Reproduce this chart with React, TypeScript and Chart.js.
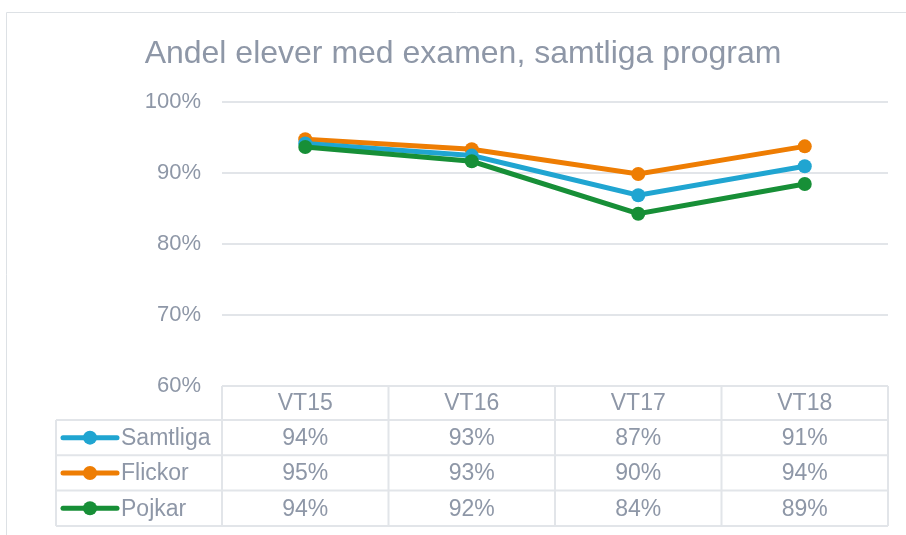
import React, { useEffect, useRef } from "react";
import { Chart, registerables } from "chart.js";

Chart.register(...registerables);

const categories = ["VT15", "VT16", "VT17", "VT18"];
const seriesNames = ["Samtliga", "Flickor", "Pojkar"];
const samtliga = [94.2, 92.5, 86.9, 91.0];
const flickor = [94.8, 93.4, 89.9, 93.8];
const pojkar = [93.7, 91.7, 84.3, 88.5];
const tableSamtliga = ["94%", "93%", "87%", "91%"];
const tableFlickor = ["95%", "93%", "90%", "94%"];
const tablePojkar = ["94%", "92%", "84%", "89%"];
const colors = ["#20a5d1", "#ee7d03", "#178f37"];

const FONT = "'Liberation Sans', Arial, sans-serif";
const TEXT = "#8e97a7";
const GRID = "#e2e5e9";

const tablePlugin = {
  id: "dataTable",
  beforeDraw(chart: any) {
    const ctx = chart.ctx;
    ctx.save();
    ctx.strokeStyle = "#dde1e5";
    ctx.lineWidth = 1;
    ctx.beginPath();
    ctx.moveTo(6.5, 540);
    ctx.lineTo(6.5, 12.5);
    ctx.lineTo(910, 12.5);
    ctx.stroke();
    ctx.restore();
  },
  afterDraw(chart: any) {
    const ctx = chart.ctx;
    const area = chart.chartArea;
    const xs = chart.scales.x;
    const n = categories.length;
    const colW = (area.right - area.left) / n;
    const headerTop = area.bottom;
    const headerH = 34;
    const rowH = 35.3;
    const tableLeft = 56;
    const rowsTop = headerTop + headerH;
    const bottom = rowsTop + rowH * 3;
    const tables = [tableSamtliga, tableFlickor, tablePojkar];

    ctx.save();
    ctx.strokeStyle = GRID;
    ctx.lineWidth = 2;
    ctx.beginPath();
    ctx.moveTo(area.left, headerTop);
    ctx.lineTo(area.right, headerTop);
    for (let r = 0; r <= 3; r++) {
      const y = rowsTop + r * rowH;
      ctx.moveTo(tableLeft, y);
      ctx.lineTo(area.right, y);
    }
    for (let c = 0; c <= n; c++) {
      const x = area.left + c * colW;
      ctx.moveTo(x, headerTop);
      ctx.lineTo(x, bottom);
    }
    ctx.moveTo(tableLeft, rowsTop);
    ctx.lineTo(tableLeft, bottom);
    ctx.stroke();

    ctx.fillStyle = TEXT;
    ctx.font = `23px ${FONT}`;
    ctx.textAlign = "center";
    ctx.textBaseline = "middle";
    categories.forEach((cat, i) => {
      const cx = xs.getPixelForValue(i);
      ctx.fillText(cat, cx, headerTop + headerH / 2 + 1);
      tables.forEach((vals, r) => {
        ctx.fillText(vals[i], cx, rowsTop + r * rowH + rowH / 2 + 1);
      });
    });

    seriesNames.forEach((name, r) => {
      const cy = rowsTop + r * rowH + rowH / 2;
      ctx.strokeStyle = colors[r];
      ctx.lineWidth = 5;
      ctx.lineCap = "round";
      ctx.beginPath();
      ctx.moveTo(63, cy);
      ctx.lineTo(117, cy);
      ctx.stroke();
      ctx.fillStyle = colors[r];
      ctx.beginPath();
      ctx.arc(90, cy, 7, 0, Math.PI * 2);
      ctx.fill();
      ctx.fillStyle = TEXT;
      ctx.textAlign = "left";
      ctx.fillText(name, 121, cy + 1);
    });
    ctx.restore();
  },
};

export default function App() {
  const ref = useRef<HTMLCanvasElement>(null);
  useEffect(() => {
    if (!ref.current) return;
    const mk = (label: string, data: number[], color: string, order: number) => ({
      label,
      data,
      borderColor: color,
      backgroundColor: color,
      pointBackgroundColor: color,
      pointBorderWidth: 0,
      pointRadius: 7,
      borderWidth: 5,
      order,
      tension: 0,
    });
    const chart = new Chart(ref.current, {
      type: "line",
      data: {
        labels: categories,
        datasets: [
          mk(seriesNames[0], samtliga, colors[0], 1),
          mk(seriesNames[1], flickor, colors[1], 2),
          mk(seriesNames[2], pojkar, colors[2], 0),
        ],
      },
      options: {
        responsive: false,
        animation: false,
        layout: { padding: { top: 0, left: 38, right: 18, bottom: 149 } },
        plugins: {
          legend: { display: false },
          tooltip: { enabled: false },
          title: {
            display: true,
            text: "Andel elever med examen, samtliga program",
            color: TEXT,
            font: { family: FONT, size: 32, weight: "normal" },
            padding: { top: 35, bottom: 29 },
          },
        },
        scales: {
          x: { display: false, offset: true },
          y: {
            min: 60,
            max: 100,
            ticks: {
              stepSize: 10,
              color: TEXT,
              padding: 21,
              font: { family: FONT, size: 22 },
              callback: (v: any) => v + "%",
            },
            grid: { color: GRID, lineWidth: 2, drawTicks: false },
            border: { display: false },
            afterFit: (s: any) => {
              s.width = 184;
            },
          },
        },
      },
      plugins: [tablePlugin],
    });
    return () => chart.destroy();
  }, []);
  return (
    <div style={{ position: "fixed", left: 0, top: 0, width: 906, height: 535, background: "#fff" }}>
      <canvas ref={ref} width={906} height={535} />
    </div>
  );
}
